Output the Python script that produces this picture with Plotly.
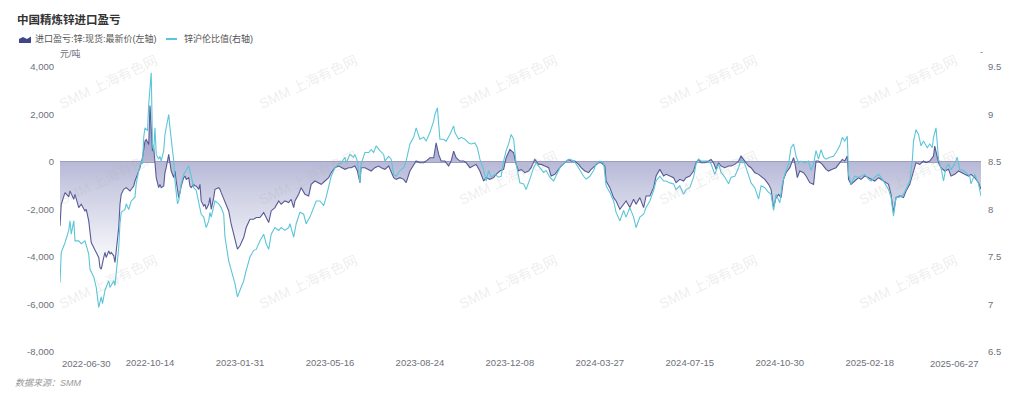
import plotly.graph_objects as go

# ---------------- text ----------------
title_text = "中国精炼锌进口盈亏"
profit_name = "进口盈亏:锌:现货:最新价(左轴)"
ratio_name = "锌沪伦比值(右轴)"
source_text = "数据来源：SMM"
left_unit = "元/吨"
right_unit = "-"
watermark_text = "SMM 上海有色网"

# ---------------- x axis (trading-day index -> date label) ----------------
x_tick_days = [0, 72, 144, 216, 288, 360, 432, 504, 576, 648, 737]
x_tick_labels = ["2022-06-30", "2022-10-14", "2023-01-31", "2023-05-16", "2023-08-24",
                 "2023-12-08", "2024-03-27", "2024-07-15", "2024-10-30", "2025-02-18",
                 "2025-06-27"]

left_tick_vals = [-8000, -6000, -4000, -2000, 0, 2000, 4000]
left_tick_labels = ["-8,000", "-6,000", "-4,000", "-2,000", "0", "2,000", "4,000"]
right_tick_vals = [6.5, 7, 7.5, 8, 8.5, 9, 9.5]
right_tick_labels = ["6.5", "7", "7.5", "8", "8.5", "9", "9.5"]

# ---------------- series: import profit (yuan/t) ----------------
profit_day = [0, 1, 4, 7, 8, 11, 12, 15, 17, 20, 21, 23, 25, 28, 31, 32, 33, 35, 36, 37, 39, 40, 41, 43,
              44, 45, 47, 48, 49, 51, 53, 56, 59, 60, 61, 63, 64, 66, 68, 69, 71, 72, 74, 75, 76, 77,
              79, 80, 81, 83, 84, 85, 87, 88, 89, 91, 92, 93, 95, 96, 97, 99, 100, 101, 103, 104, 105,
              107, 108, 109, 111, 112, 113, 115, 116, 117, 119, 120, 121, 123, 124, 127, 128, 129, 132,
              135, 137, 140, 142, 144, 147, 149, 152, 155, 157, 160, 163, 165, 167, 169, 172, 175, 177,
              180, 183, 185, 187, 188, 191, 193, 196, 199, 201, 204, 207, 209, 212, 215, 217, 220, 223,
              225, 228, 231, 233, 236, 238, 240, 241, 244, 247, 249, 252, 255, 257, 260, 263, 265, 267,
              269, 272, 275, 277, 280, 283, 285, 288, 291, 293, 296, 299, 301, 303, 305, 308, 311, 313,
              315, 317, 320, 323, 325, 328, 331, 333, 336, 339, 341, 344, 347, 349, 352, 355, 357, 360,
              363, 365, 367, 369, 372, 375, 377, 380, 383, 385, 388, 391, 393, 396, 399, 401, 404, 407,
              409, 412, 415, 417, 420, 423, 425, 428, 431, 433, 436, 437, 440, 443, 445, 448, 451, 453,
              456, 459, 461, 464, 467, 469, 472, 475, 477, 480, 483, 485, 488, 491, 493, 496, 499, 501,
              504, 507, 509, 511, 513, 516, 519, 521, 523, 525, 527, 529, 532, 535, 537, 540, 543, 545,
              548, 551, 553, 556, 559, 561, 564, 567, 569, 571, 573, 575, 577, 579, 581, 584, 587, 588,
              590, 592, 595, 597, 600, 603, 605, 607, 610, 613, 615, 618, 621, 623, 626, 628, 630, 631,
              633, 636, 639, 641, 644, 647, 649, 652, 655, 657, 660, 663, 665, 667, 669, 672, 675, 677,
              680, 683, 685, 688, 691, 693, 696, 699, 700, 703, 705, 708, 711, 713, 716, 719, 721, 724,
              727, 729, 732, 735, 737]
profit = [-2690, -1780, -1290, -1470, -1220, -1570, -1360, -1920, -1780, -2060, -1990, -2480, -3390,
          -3740, -4020, -4440, -4510, -4020, -3810, -4020, -3740, -3880, -3810, -3950, -4230, -3740,
          -2760, -1780, -1360, -1150, -1080, -1220, -1010, -800, -660, -380, -240, 180, 880, 950, 740,
          2380, 460, 600, -240, -660, -1080, -940, -1080, -1010, -450, -240, 320, 40, -380, -660, -380,
          -800, -1500, -1290, -1010, -660, -590, -730, -660, -1010, -1080, -940, -1010, -1010, -1150,
          -940, -1640, -1850, -1780, -1990, -1780, -1500, -1990, -1500, -1150, -1080, -1150, -1290,
          -1640, -2060, -2620, -3180, -3670, -3530, -3180, -2760, -2410, -2410, -2340, -2340, -2130,
          -2340, -2550, -2060, -1920, -1640, -1780, -1640, -1710, -1570, -1920, -1640, -1360, -1080,
          -1360, -1430, -940, -800, -870, -940, -800, -660, -450, -240, -170, -240, -310, -240, -240,
          -170, -380, -870, -240, -240, -310, -380, -240, -170, -240, -310, -170, -380, -660, -730,
          -660, -730, -870, -380, -100, 40, -30, -30, 40, 180, 180, 810, 320, 40, 40, -170, 40, 460,
          180, 40, 40, -30, -240, -170, -100, -380, -800, -660, -730, -660, -520, -380, -310, 180, 530,
          390, -100, -380, -310, -450, -380, -240, 110, -100, -100, -170, -240, -590, -520, -310, -170,
          -30, 110, 40, 40, -100, -240, -380, -450, -310, -170, -30, -30, -170, -800, -1080, -1500,
          -1640, -1990, -1780, -1640, -1920, -1570, -1780, -1500, -1920, -1430, -1430, -1080, -590,
          -310, -590, -520, -590, -660, -870, -730, -800, -660, -590, -380, -30, 110, -30, -30, 40, 110,
          -30, -310, -30, -170, -240, -170, -170, -100, 40, 250, 40, -170, -240, -450, -520, -590, -730,
          -940, -1150, -1920, -1500, -1360, -1500, -730, -450, -240, 180, -30, -660, -380, -450, -590,
          -870, -940, 40, 40, -100, -310, -380, -310, -240, -100, 110, 40, 250, -730, -940, -800, -660,
          -730, -590, -660, -730, -800, -660, -730, -800, -940, -1360, -2130, -1500, -1430, -1500,
          -1220, -940, -380, -30, -100, 40, -30, 40, 250, 670, -30, -240, -380, -310, -590, -520, -380,
          -450, -520, -590, -520, -660, -870, -1150]

# ---------------- series: SHFE/LME zinc price ratio ----------------
ratio_day = [0, 1, 4, 7, 8, 9, 11, 12, 15, 17, 20, 21, 23, 24, 27, 29, 31, 33, 34, 36, 39, 40, 43, 44,
             45, 47, 48, 49, 52, 53, 55, 57, 60, 61, 63, 65, 66, 67, 68, 70, 71, 73, 74, 75, 76, 77,
             79, 80, 81, 83, 84, 85, 87, 88, 90, 91, 92, 94, 95, 97, 99, 101, 103, 105, 107, 109, 111,
             113, 115, 116, 117, 119, 120, 121, 123, 124, 127, 129, 131, 132, 135, 137, 140, 142, 144,
             147, 149, 152, 155, 157, 160, 163, 165, 167, 169, 172, 175, 177, 180, 183, 184, 187, 189,
             192, 195, 197, 200, 203, 205, 208, 211, 213, 215, 217, 220, 223, 225, 228, 229, 232, 235,
             236, 238, 240, 241, 244, 247, 249, 251, 253, 256, 259, 260, 263, 265, 267, 269, 272, 275,
             277, 280, 283, 285, 288, 291, 293, 296, 299, 300, 302, 304, 307, 309, 312, 315, 316, 319,
             321, 324, 327, 329, 332, 334, 336, 339, 341, 343, 345, 348, 351, 353, 355, 357, 359, 361,
             363, 365, 368, 371, 373, 376, 379, 381, 384, 387, 389, 392, 395, 397, 400, 403, 405, 408,
             411, 413, 416, 419, 421, 424, 427, 429, 432, 435, 437, 440, 443, 445, 448, 451, 453, 456,
             459, 461, 464, 467, 469, 472, 475, 477, 480, 483, 485, 488, 491, 493, 496, 499, 501, 504,
             507, 509, 511, 513, 516, 519, 521, 524, 527, 529, 532, 535, 537, 540, 543, 545, 548, 551,
             553, 556, 559, 561, 564, 567, 569, 571, 573, 576, 578, 580, 583, 585, 587, 589, 591, 593,
             596, 599, 601, 603, 605, 607, 609, 611, 613, 616, 619, 621, 624, 626, 628, 630, 631, 633,
             636, 639, 641, 644, 647, 649, 652, 655, 657, 660, 663, 665, 667, 669, 672, 675, 677, 680,
             682, 683, 685, 687, 689, 691, 694, 696, 698, 699, 701, 703, 705, 707, 709, 711, 713, 716,
             718, 720, 723, 725, 728, 729, 732, 735, 737]
ratio = [7.23, 7.55, 7.65, 7.78, 7.88, 7.74, 7.88, 7.67, 7.67, 7.64, 7.67, 7.62, 7.53, 7.37, 7.29, 7.18,
         6.97, 7.08, 7.01, 7.15, 7.25, 7.18, 7.25, 7.20, 7.32, 7.60, 7.85, 7.97, 8.00, 8.06, 8.00, 8.09,
         8.13, 8.27, 8.41, 8.51, 8.48, 8.76, 8.86, 8.83, 9.11, 9.44, 8.69, 8.62, 8.86, 8.58, 8.53, 8.56,
         8.51, 8.62, 8.79, 8.86, 9.00, 8.86, 8.65, 8.51, 8.30, 8.06, 8.09, 8.27, 8.37, 8.41, 8.46, 8.35,
         8.23, 8.20, 8.09, 7.95, 7.92, 7.85, 7.81, 7.88, 7.97, 7.92, 8.02, 8.09, 8.06, 8.02, 7.95, 7.71,
         7.46, 7.36, 7.22, 7.08, 7.15, 7.25, 7.36, 7.50, 7.57, 7.58, 7.67, 7.74, 7.64, 7.58, 7.74, 7.81,
         7.78, 7.81, 7.78, 7.81, 7.85, 7.71, 7.85, 7.97, 7.95, 7.85, 7.92, 8.02, 8.09, 8.09, 8.04, 8.13,
         8.23, 8.35, 8.44, 8.48, 8.49, 8.55, 8.49, 8.58, 8.55, 8.58, 8.51, 8.28, 8.48, 8.60, 8.60, 8.63,
         8.60, 8.67, 8.62, 8.58, 8.51, 8.56, 8.53, 8.37, 8.35, 8.41, 8.44, 8.51, 8.69, 8.76, 8.86, 8.74,
         8.76, 8.72, 8.81, 8.93, 9.00, 9.07, 8.74, 8.74, 8.72, 8.79, 8.88, 8.81, 8.74, 8.76, 8.74, 8.70,
         8.69, 8.70, 8.65, 8.53, 8.42, 8.30, 8.41, 8.34, 8.37, 8.34, 8.35, 8.51, 8.62, 8.69, 8.79, 8.74,
         8.48, 8.28, 8.27, 8.21, 8.32, 8.44, 8.49, 8.44, 8.39, 8.41, 8.34, 8.30, 8.35, 8.44, 8.48, 8.51,
         8.53, 8.51, 8.48, 8.41, 8.35, 8.32, 8.35, 8.41, 8.48, 8.51, 8.49, 8.25, 8.18, 8.09, 7.97, 7.88,
         7.99, 7.92, 8.02, 7.92, 7.81, 7.92, 7.95, 8.02, 8.09, 8.20, 8.30, 8.35, 8.30, 8.30, 8.28, 8.27,
         8.21, 8.25, 8.16, 8.21, 8.23, 8.34, 8.48, 8.53, 8.51, 8.51, 8.51, 8.48, 8.37, 8.48, 8.39, 8.34,
         8.27, 8.34, 8.35, 8.44, 8.53, 8.48, 8.37, 8.28, 8.23, 8.11, 8.25, 8.23, 8.18, 8.16, 7.99, 8.16,
         8.07, 8.27, 8.37, 8.48, 8.65, 8.69, 8.56, 8.49, 8.51, 8.49, 8.51, 8.41, 8.48, 8.62, 8.53, 8.63,
         8.55, 8.53, 8.55, 8.56, 8.60, 8.67, 8.76, 8.72, 8.77, 8.37, 8.27, 8.35, 8.34, 8.35, 8.37, 8.32,
         8.30, 8.34, 8.37, 8.34, 8.28, 8.21, 8.13, 7.93, 8.13, 8.13, 8.16, 8.21, 8.30, 8.51, 8.72, 8.84,
         8.79, 8.67, 8.72, 8.65, 8.69, 8.65, 8.76, 8.86, 8.53, 8.44, 8.30, 8.44, 8.48, 8.42, 8.48, 8.55,
         8.42, 8.41, 8.39, 8.35, 8.27, 8.37, 8.27, 8.14]

# ---------------- layout geometry (pixels) ----------------
W, H = 1024, 399
ML, MR, MT, MB = 60, 43, 67, 47
PW, PH = W - ML - MR, H - MT - MB


def px_x(px):
    return (px - ML) / PW


def px_y(py):
    return (H - MB - py) / PH


FONT = "Liberation Sans, Noto Sans CJK SC, sans-serif"
TICK_COLOR = "#6e7079"
PROFIT_LINE = "#585a97"
PROFIT_ICON = "#3f4787"
RATIO_LINE = "#5cc5d8"

fig = go.Figure()

fig.add_trace(go.Scatter(
    x=profit_day, y=profit, name=profit_name, mode="lines",
    line=dict(color=PROFIT_LINE, width=1.1),
    fill="tozeroy",
    fillgradient=dict(type="vertical",
                      colorscale=[[0, "rgba(255,255,255,1)"], [0.5, "rgba(202,204,226,1)"],
                                  [1, "rgba(140,143,192,1)"]]),
    showlegend=False, yaxis="y",
))
fig.add_trace(go.Scatter(
    x=ratio_day, y=ratio, name=ratio_name, mode="lines",
    line=dict(color=RATIO_LINE, width=1.1),
    showlegend=False, yaxis="y2",
))

annotations = []
shapes = []

# watermarks
for wx in (108, 308, 508, 708, 908):
    for wy in (82, 178, 282):
        annotations.append(dict(
            x=px_x(wx), y=px_y(wy), xref="paper", yref="paper", text=watermark_text,
            showarrow=False, textangle=-25,
            font=dict(family=FONT, size=14, color="rgba(175,175,175,0.22)"),
            xanchor="center", yanchor="middle"))

# first/last x labels aligned to the plot edges
annotations.append(dict(x=x_tick_days[0], y=px_y(355.5), xref="x", yref="paper",
                        text=x_tick_labels[0], showarrow=False, xanchor="left", yanchor="top",
                        font=dict(family=FONT, size=9.5, color=TICK_COLOR)))
annotations.append(dict(x=x_tick_days[-1], y=px_y(355.5), xref="x", yref="paper",
                        text=x_tick_labels[-1], showarrow=False, xanchor="right", yanchor="top",
                        font=dict(family=FONT, size=9.5, color=TICK_COLOR)))

# axis names
annotations.append(dict(x=px_x(70), y=px_y(53), xref="paper", yref="paper", text=left_unit,
                        showarrow=False, xanchor="center", yanchor="middle",
                        font=dict(family=FONT, size=9, color=TICK_COLOR)))
annotations.append(dict(x=px_x(981), y=px_y(52), xref="paper", yref="paper", text=right_unit,
                        showarrow=False, xanchor="center", yanchor="middle",
                        font=dict(family=FONT, size=9, color=TICK_COLOR)))

# legend (custom, echarts-like)
annotations.append(dict(x=px_x(33), y=px_y(39), xref="paper", yref="paper", text=profit_name,
                        showarrow=False, xanchor="left", yanchor="middle",
                        font=dict(family=FONT, size=9, color="#555555")))
annotations.append(dict(x=px_x(182), y=px_y(39), xref="paper", yref="paper", text=ratio_name,
                        showarrow=False, xanchor="left", yanchor="middle",
                        font=dict(family=FONT, size=9, color="#555555")))
icon_pts = [(19, 43), (19, 39), (23, 37), (27, 39), (31, 36.5), (31, 43)]
path = "M " + " L ".join(f"{px_x(a):.5f},{px_y(b):.5f}" for a, b in icon_pts) + " Z"
shapes.append(dict(type="path", xref="paper", yref="paper", path=path,
                   fillcolor=PROFIT_ICON, line=dict(width=0)))
shapes.append(dict(type="line", xref="paper", yref="paper",
                   x0=px_x(166), x1=px_x(177), y0=px_y(39), y1=px_y(39),
                   line=dict(color=RATIO_LINE, width=2)))

# source
annotations.append(dict(x=px_x(13), y=px_y(382.5), xref="paper", yref="paper",
                        text="<i>" + source_text + "</i>", showarrow=False,
                        xanchor="left", yanchor="middle",
                        font=dict(family=FONT, size=9, color="#999999")))

fig.update_layout(
    width=W, height=H,
    margin=dict(l=ML, r=MR, t=MT, b=MB, pad=0),
    paper_bgcolor="white", plot_bgcolor="white",
    font=dict(family=FONT, size=9.5, color=TICK_COLOR),
    title=dict(text="<b>" + title_text + "</b>", xref="container", yref="container",
               x=17 / W, y=1 - 20 / H, xanchor="left", yanchor="middle",
               font=dict(family="Noto Sans CJK SC, sans-serif", size=11.5, color="#333333")),
    showlegend=False,
    xaxis=dict(range=[x_tick_days[0], x_tick_days[-1]], type="linear",
               tickvals=x_tick_days[1:-1], ticktext=x_tick_labels[1:-1],
               showgrid=False, zeroline=False, showline=False, ticks="",
               ticklabelstandoff=3,
               tickfont=dict(family=FONT, size=9.5, color=TICK_COLOR)),
    yaxis=dict(range=[left_tick_vals[0], left_tick_vals[-1]],
               tickvals=left_tick_vals, ticktext=left_tick_labels,
               showgrid=False, showline=False, ticks="",
               zeroline=True, zerolinecolor="#9c9dbf", zerolinewidth=1.5,
               ticklabelstandoff=5,
               tickfont=dict(family=FONT, size=9.5, color=TICK_COLOR)),
    yaxis2=dict(range=[right_tick_vals[0], right_tick_vals[-1]], overlaying="y", side="right",
                tickvals=right_tick_vals, ticktext=right_tick_labels,
                showgrid=False, showline=False, ticks="", zeroline=False,
                ticklabelstandoff=6,
                tickfont=dict(family=FONT, size=9.5, color=TICK_COLOR)),
    annotations=annotations,
    shapes=shapes,
)

fig.write_html("out.html", config={"displayModeBar": False},
               post_script="document.body.style.margin='0';")
